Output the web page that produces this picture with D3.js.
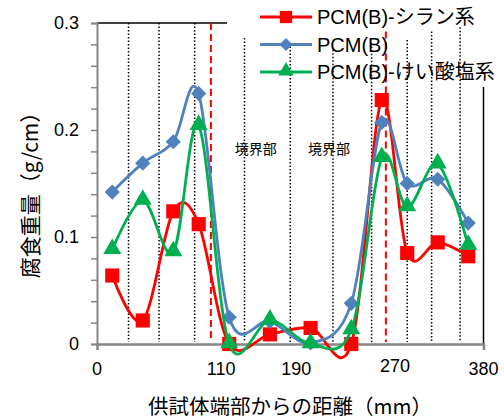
<!DOCTYPE html>
<html>
<head>
<meta charset="utf-8">
<script src="https://cdn.jsdelivr.net/npm/d3@7"></script>
<style>
  body { margin: 0; background: #fff; }
  svg text { font-family: "Liberation Sans", Arial, "Noto Sans CJK JP", sans-serif; fill: #000; }
</style>
</head>
<body>
<svg width="504" height="419"></svg>
<script>
// distance from specimen end (mm)
var xs = [15, 45, 75, 100, 130, 170, 210, 250, 280, 305, 335, 365];

var silane   = [0.064, 0.022, 0.124, 0.112, 0, 0.009, 0.015, 0, 0.228, 0.085, 0.095, 0.082];
var plain    = [0.142, 0.169, 0.189, 0.234, 0.025, 0.021, 0.001, 0.038, 0.207, 0.150, 0.154, 0.113];
var silicate = [0.088, 0.134, 0.086, 0.204, 0, 0.022, 0, 0.013, 0.174, 0.128, 0.168, 0.092];

var seriesNames = ["PCM(B)-シラン系", "PCM(B)", "PCM(B)-けい酸塩系"];

// x tick labels (placed where the original chart had them)
var xTickPos = [0, 122, 196, 293, 380];
var xTickText = ["0", "110", "190", "270", "380"];
var yTicks = [0, 0.1, 0.2, 0.3];

// section boundaries (dotted) and their top ends
var dotX   = [31, 61, 96, 145, 190, 232, 270, 305, 329, 357];
var dotTop = [0.3, 0.3, 0.3, 0.286, 0.278, 0.275, 0.281, 0.284, 0.292, 0.296];
// red dashed lines
var dashX = [112, 284];
var dashTop = [0.3, 0.292];

var boundaryLabel = "境界部";
var boundaryX = [156, 228];
var boundaryY = 0.182;

var height = 419;
var width = 504;
var margins = {top: 23, right: 20.5, bottom: 75, left: 97};

var svg = d3.select("svg")
  .attr("width", width)
  .attr("height", height);

var x = d3.scaleLinear().domain([0, 380]).range([margins.left, width - margins.right]);
var y = d3.scaleLinear().domain([0, 0.3]).range([height - margins.bottom, margins.top]);

// frame: top and right borders
svg.append("line")
  .attr("x1", x(0)).attr("x2", 227)
  .attr("y1", y(0.3)).attr("y2", y(0.3))
  .attr("stroke", "#000").attr("stroke-width", 1.5);
svg.append("line")
  .attr("x1", x(380)).attr("x2", x(380))
  .attr("y1", 87).attr("y2", y(0))
  .attr("stroke", "#000").attr("stroke-width", 1.5);

// dotted boundaries
svg.selectAll(".dot-line")
  .data(dotX)
  .enter()
  .append("line")
  .attr("x1", function(d){ return x(d); })
  .attr("x2", function(d){ return x(d); })
  .attr("y1", function(d, i){ return y(dotTop[i]); })
  .attr("y2", y(0) - 2)
  .attr("stroke", "#000")
  .attr("stroke-width", 1.5)
  .attr("stroke-dasharray", "1.5,2");

svg.selectAll(".dash-line")
  .data(dashX)
  .enter()
  .append("line")
  .attr("x1", function(d){ return x(d); })
  .attr("x2", function(d){ return x(d); })
  .attr("y1", function(d, i){ return y(dashTop[i]); })
  .attr("y2", y(0) - 2)
  .attr("stroke", "#ff0000")
  .attr("stroke-width", 2)
  .attr("stroke-dasharray", "7,4");

// y axis
var yAxis = d3.axisLeft(y)
  .tickValues(d3.range(0, 0.3001, 0.02))
  .tickSize(6)
  .tickFormat(function(d){
    var r = Math.round(d * 100) / 100;
    return yTicks.indexOf(r) >= 0 ? (r === 0 ? "0" : r.toFixed(1)) : "";
  });
var gy = svg.append("g")
  .attr("transform", "translate(" + x(0) + ",0)")
  .call(yAxis);
gy.select(".domain").attr("stroke", "#868686").attr("stroke-width", 2);
gy.selectAll(".tick line").attr("stroke", "#868686").attr("stroke-width", 1.5);
gy.selectAll(".tick text")
  .attr("x", -18)
  .attr("font-size", 18)
  .style("font-family", "'Liberation Sans', Arial, sans-serif");

// x axis
var xAxis = d3.axisBottom(x)
  .tickValues([0, 380])
  .tickSize(6)
  .tickFormat("");
var gx = svg.append("g")
  .attr("transform", "translate(0," + y(0) + ")")
  .call(xAxis);
gx.select(".domain").attr("stroke", "#868686").attr("stroke-width", 2.5);
gx.selectAll(".tick line").attr("stroke", "#868686").attr("stroke-width", 1.5);

svg.selectAll(".xlab")
  .data(xTickText)
  .enter()
  .append("text")
  .attr("x", function(d, i){ return x(xTickPos[i]); })
  .attr("y", function(d, i){ return d === "270" ? 372 : 375; })
  .attr("text-anchor", "middle")
  .attr("font-size", 18)
  .text(function(d){ return d; });

// titles
svg.append("text")
  .attr("x", 290)
  .attr("y", 414)
  .attr("text-anchor", "middle")
  .attr("font-size", 20.5)
  .style("font-family", "'Noto Sans CJK JP', sans-serif")
  .text("供試体端部からの距離（mm）");

svg.append("text")
  .attr("transform", "translate(38,190) rotate(-90)")
  .attr("text-anchor", "middle")
  .attr("font-size", 21)
  .style("font-family", "'Noto Sans CJK JP', sans-serif")
  .text("腐食重量（g/cm）");

// boundary labels
svg.selectAll(".blab")
  .data(boundaryX)
  .enter()
  .append("text")
  .attr("x", function(d){ return x(d); })
  .attr("y", y(boundaryY) + 5)
  .attr("text-anchor", "middle")
  .attr("font-size", 14)
  .style("font-family", "'Noto Sans CJK JP', sans-serif")
  .text(boundaryLabel);

// series
var colors = ["#ff0000", "#4f81bd", "#00b050"];
var values = [silane, plain, silicate];
var symbols = [d3.symbolSquare, d3.symbolSquare, d3.symbolTriangle];
var symSizes = [200, 115, 140];
var symRotate = [0, 45, 0];

var line = d3.line()
  .x(function(d){ return x(d[0]); })
  .y(function(d){ return y(d[1]); })
  .curve(d3.curveCatmullRom.alpha(0));

values.forEach(function(vals, s){
  var pts = xs.map(function(v, i){ return [v, vals[i]]; });
  var g = svg.append("g");
  g.append("path")
    .attr("d", line(pts))
    .attr("fill", "none")
    .attr("stroke", colors[s])
    .attr("stroke-width", 2.8);
  g.selectAll("path.mark")
    .data(pts)
    .enter()
    .append("path")
    .attr("class", "mark")
    .attr("d", d3.symbol().type(symbols[s]).size(symSizes[s]))
    .attr("transform", function(d){
      var dy = s === 2 ? -1 : 0;
      return "translate(" + x(d[0]) + "," + (y(d[1]) + dy) + ") rotate(" + symRotate[s] + ")";
    })
    .attr("fill", colors[s]);
});

// legend
var legend = svg.append("g");
seriesNames.forEach(function(name, i){
  var ly = 17 + i * 27.5;
  legend.append("line")
    .attr("x1", 260).attr("x2", 312)
    .attr("y1", ly).attr("y2", ly)
    .attr("stroke", colors[i]).attr("stroke-width", 2.8);
  legend.append("path")
    .attr("d", d3.symbol().type(symbols[i]).size(symSizes[i] * 0.75))
    .attr("transform", "translate(286," + (ly + (i === 2 ? -1 : 0)) + ") rotate(" + symRotate[i] + ")")
    .attr("fill", colors[i]);
  legend.append("text")
    .attr("x", 317)
    .attr("y", ly + 7)
    .attr("font-size", 20)
    .text(name);
});
</script>
</body>
</html>
